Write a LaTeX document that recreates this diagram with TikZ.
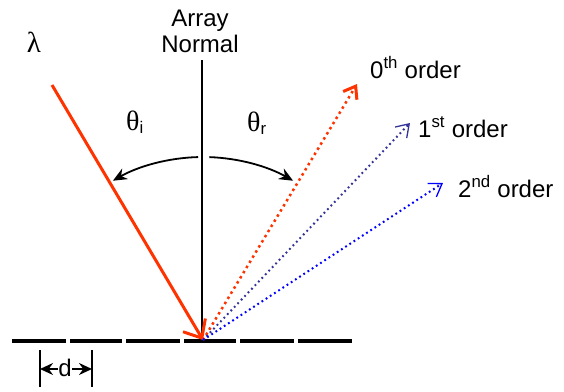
\documentclass[tikz,border=0pt]{standalone}
\usepackage{fontspec}
\setmainfont{Liberation Sans}
\newfontfamily\grk{Liberation Serif}
\usetikzlibrary{arrows.meta,calc}
\definecolor{rayred}{RGB}{255,51,0}
\definecolor{rayslate}{RGB}{51,51,153}
\definecolor{rayblue}{RGB}{0,0,255}
\begin{document}
\begin{tikzpicture}[x=1pt,y=-1pt,
  lbl/.style={font=\fontsize{24}{27}\selectfont, inner sep=0pt},
  surf/.style={line width=4pt},
  raydot/.style={line width=2.5pt, dash pattern=on 2.5pt off 3.5pt},
  anglearc/.style={line width=1.8pt, -{Stealth[length=14pt,width=12pt]}},
]
\useasboundingbox (0,0) rectangle (564,391);
% key points
\coordinate (O) at (203,340);
\coordinate (Iin) at (52,85);
\coordinate (E0) at (357,84);
\coordinate (E1) at (410,123);
\coordinate (E2) at (443,183);
\coordinate (Ntop) at (202,60);
\coordinate (Nbot) at (202,341);
% grating surface
\foreach \a/\b [count=\i] in {12/66,70/122,126/180,184/236,240/294,298/352}{
  \coordinate (s\i a) at (\a,341);
  \coordinate (s\i b) at (\b,341);
  \draw[surf] (s\i a) -- (s\i b);
}
% array normal
\draw[line width=1.5pt] (Ntop) -- (Nbot);
\node[lbl, align=center] (normal) at (200,31) {Array\\[-1pt]Normal};
% incident ray
\draw[rayred, line width=3pt, -{Straight Barb[length=15pt,width=26pt,line width=3pt]}] (Iin) -- (O);
\node[lbl] (lambda) at (34,42) {\grk\fontsize{29}{30}\selectfont λ};
% diffracted orders
\draw[rayred, raydot, -{Straight Barb[length=11pt,width=16pt,line width=3pt]}] (O) -- (E0);
\draw[rayslate, raydot, line width=2pt, dash pattern=on 1.8pt off 3.2pt, -{Straight Barb[length=12pt,width=16pt,line width=1.3pt]}] (O) -- (E1);
\draw[rayblue, raydot, line width=2pt, dash pattern=on 1.8pt off 3.2pt, -{Straight Barb[length=12pt,width=16pt,line width=1.3pt]}] (O) -- (E2);
\node[lbl, anchor=base west] (o0) at (370,78) {0\textsuperscript{th} order};
\node[lbl, anchor=base west] (o1) at (418,137) {1\textsuperscript{st} order};
\node[lbl, anchor=base west] (o2) at (458,197) {2\textsuperscript{nd} order};
% angle arcs
\draw[anglearc] ($(O)+(-91.5:183)$) arc[start angle=-91.5, end angle=-119.5, radius=183];
\draw[anglearc] ($(O)+(-88:183)$) arc[start angle=-88, end angle=-60.5, radius=183];
\node[lbl, anchor=base west] (ti) at (126,130) {{\grk\fontsize{28}{30}\selectfont θ}\textsubscript{i}};
\node[lbl, anchor=base west] (tr) at (247,131) {{\grk\fontsize{28}{30}\selectfont θ}\textsubscript{r}};
% period d
\coordinate (d1t) at (40,350);
\coordinate (d1b) at (40,387);
\coordinate (d2t) at (92,350);
\coordinate (d2b) at (92,387);
\draw[line width=1.8pt] (d1t) -- (d1b);
\draw[line width=1.8pt] (d2t) -- (d2b);
\coordinate (da) at (40,369);
\coordinate (db) at (92,369);
\draw[line width=1.5pt, {Stealth[length=13pt,width=12pt]}-{Stealth[length=13pt,width=12pt]}] (da) -- (db);
\node[lbl, fill=white, inner sep=0.5pt] (dl) at (65,368) {d};
\end{tikzpicture}
\end{document}
